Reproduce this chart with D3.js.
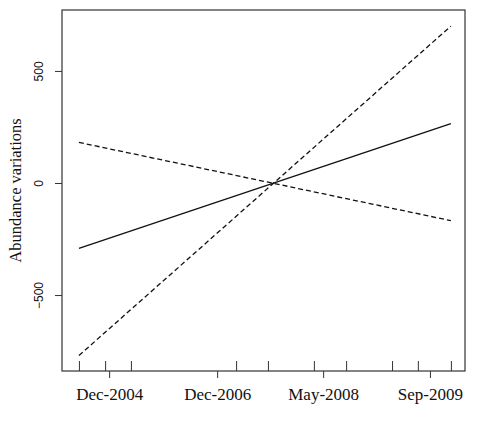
<!DOCTYPE html>
<html><head><meta charset="utf-8">
<script src="https://cdn.jsdelivr.net/npm/d3@7"></script>
<style>body{margin:0;background:#fff}</style></head>
<body><div id="chart"></div>
<script>
// sampling positions on a relative time axis (0..1)
const sampleTicks = [0.042, 0.107, 0.171, 0.432, 0.511, 0.625, 0.705, 0.819, 0.883, 0.965];
const labelTicks = [0.117, 0.385, 0.648, 0.913];
const labelNames = ["Dec-2004", "Dec-2006", "May-2008", "Sep-2009"];
const yTicks = [-500, 0, 500];
const trendX = [0.042, 0.965];
const solidY = [-292, 265];
const steepY = [-770, 700];
const shallowY = [181, -168];

const W = 478, H = 427;
const margin = {top: 10, right: 13, bottom: 56, left: 62};
const svg = d3.select("#chart").append("svg").attr("width", W).attr("height", H)
  .style("font-family", "'Liberation Serif', 'DejaVu Serif', serif");
const x = d3.scaleLinear().domain([0, 1]).range([margin.left, W - margin.right]);
const y = d3.scaleLinear().domain([-839, 772]).range([H - margin.bottom, margin.top]);

svg.append("rect").attr("x", margin.left).attr("y", margin.top)
  .attr("width", W - margin.left - margin.right).attr("height", H - margin.top - margin.bottom)
  .attr("fill", "none").attr("stroke", "#333").attr("stroke-width", 1.2);

const base = H - margin.bottom;
svg.append("g").attr("transform", `translate(0,${base})`)
  .call(d3.axisTop(x).tickValues(sampleTicks).tickSize(10).tickFormat(""))
  .call(g => g.select(".domain").remove())
  .selectAll("line").attr("stroke", "#333");
svg.append("g").attr("transform", `translate(0,${base})`)
  .call(d3.axisBottom(x).tickValues(labelTicks).tickSize(7).tickPadding(10)
    .tickFormat((d, i) => labelNames[i]))
  .call(g => g.select(".domain").remove())
  .call(g => g.selectAll("line").attr("stroke", "#333"))
  .selectAll("text").attr("font-size", 17).attr("font-family", "'Liberation Serif', serif").attr("fill", "#111");

const ya = svg.append("g").attr("transform", `translate(${margin.left},0)`)
  .call(d3.axisLeft(y).tickValues(yTicks).tickSize(7).tickPadding(0).tickFormat(d3.format("d")))
  .call(g => g.select(".domain").remove());
ya.selectAll("line").attr("stroke", "#333");
ya.selectAll(".tick text").attr("font-size", 12).attr("font-family", "Arial, 'Liberation Sans', sans-serif")
  .attr("fill", "#111").attr("text-anchor", "middle")
  .attr("transform", "rotate(-90)").attr("x", 0).attr("y", -23).attr("dy", "0.35em");

svg.append("text").attr("transform", `translate(21,${(margin.top + base) / 2}) rotate(-90)`)
  .attr("text-anchor", "middle").attr("font-size", 16.5).attr("fill", "#111")
  .text("Abundance variations");

const line = d3.line().x((d, i) => x(trendX[i])).y(d => y(d));
[[solidY, null], [steepY, "5,3"], [shallowY, "5,3"]].forEach(([vals, dash]) => {
  svg.append("path").attr("d", line(vals)).attr("fill", "none")
    .attr("stroke", "#111").attr("stroke-width", 1.3).attr("stroke-dasharray", dash);
});
</script></body></html>
